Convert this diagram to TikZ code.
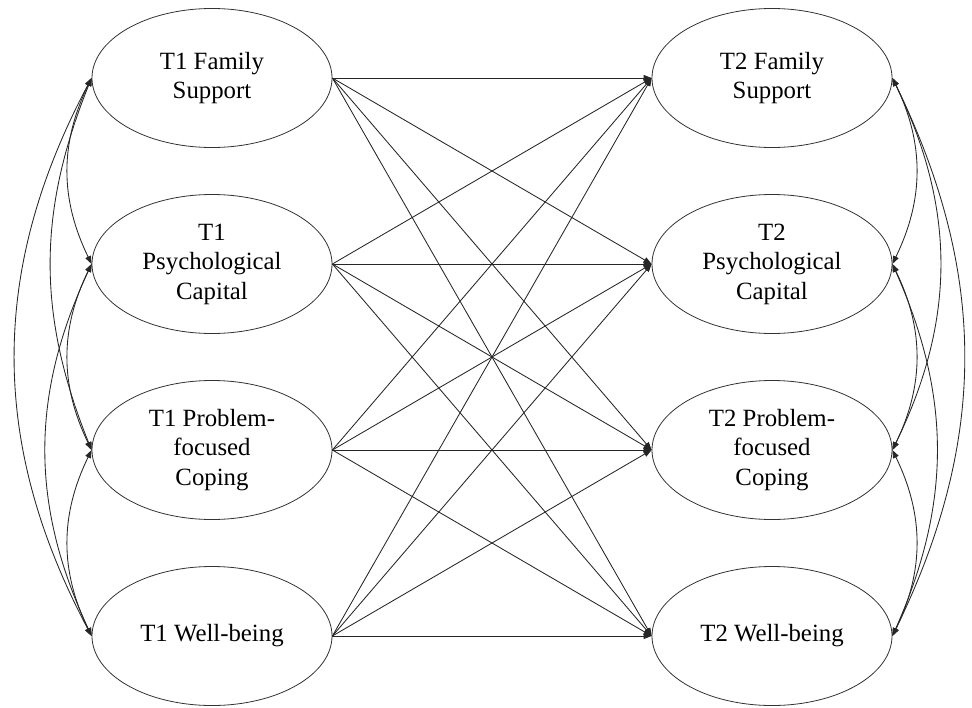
\documentclass[tikz,border=0pt]{standalone}
\usepackage{fontspec}
\setmainfont{Liberation Serif}
\usetikzlibrary{shapes.geometric,arrows.meta}
\tikzset{
  var/.style={draw, ellipse, minimum width=240pt, minimum height=139pt, inner sep=0pt,
    align=center, font=\fontsize{24.8}{29.5}\selectfont, line width=0.8pt, draw=black!80},
  path/.style={-{Triangle[length=8pt,width=6pt]}, line width=0.85pt, draw=black!85},
  cov/.style={{Triangle[length=8pt,width=6pt]}-{Triangle[length=8pt,width=6pt]}, line width=0.85pt, draw=black!85}
}
\begin{document}
\begin{tikzpicture}[x=1pt,y=-1pt]
\useasboundingbox (0,0) rectangle (972,707);
\node[var] (L1) at (212,78) {T1 Family\\Support};
\node[var] (L2) at (212,264) {T1\\Psychological\\Capital};
\node[var] (L3) at (212,450) {T1 Problem-\\focused\\Coping};
\node[var] (L4) at (212,636) {T1 Well-being};
\node[var] (R1) at (772,78) {T2 Family\\Support};
\node[var] (R2) at (772,264) {T2\\Psychological\\Capital};
\node[var] (R3) at (772,450) {T2 Problem-\\focused\\Coping};
\node[var] (R4) at (772,636) {T2 Well-being};
\foreach \i in {1,2,3,4}{
  \foreach \j in {1,2,3,4}{
    \draw[path] (L\i.east) -- (R\j.west);
  }
}
% left covariances
\draw[cov] (L1.west) to[bend right=26] (L2.west);
\draw[cov] (L2.west) to[bend right=26] (L3.west);
\draw[cov] (L3.west) to[bend right=26] (L4.west);
\draw[cov] (L1.west) to[bend right=22] (L3.west);
\draw[cov] (L2.west) to[bend right=25] (L4.west);
\draw[cov] (L1.west) to[bend right=28] (L4.west);
% right covariances
\draw[cov] (R1.east) to[bend left=26] (R2.east);
\draw[cov] (R2.east) to[bend left=26] (R3.east);
\draw[cov] (R3.east) to[bend left=26] (R4.east);
\draw[cov] (R1.east) to[bend left=26] (R3.east);
\draw[cov] (R2.east) to[bend left=24] (R4.east);
\draw[cov] (R1.east) to[bend left=26] (R4.east);
\end{tikzpicture}
\end{document}
